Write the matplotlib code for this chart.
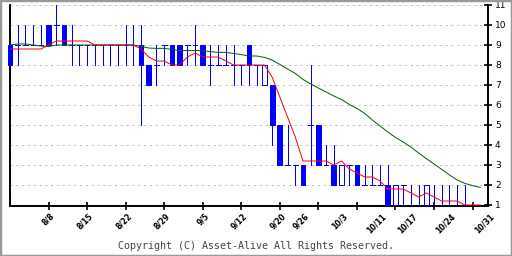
import matplotlib
matplotlib.use("Agg")
import matplotlib.pyplot as plt
from matplotlib.patches import Rectangle

# daily candles, one per trading day (index 0 = 8/1)
opens = [9, 9, 9, 9, 9, 10, 10, 10, 9, 9, 9, 9, 9, 9, 9, 9, 9, 9, 8, 8,
         9, 9, 9, 9, 9, 9, 8, 8, 8, 8, 8, 9, 8, 7, 7, 5, 3, 3, 3, 5,
         5, 3, 3, 2, 3, 3, 2, 2, 2, 2, 1, 2, 1, 1, 1, 1, 1, 1, 1, 1,
         1, 1]
highs = [9, 10, 10, 10, 10, 10, 11, 10, 10, 9, 9, 9, 9, 9, 9, 10, 10, 10, 8, 9,
         9, 9, 9, 9, 10, 9, 9, 9, 9, 9, 8, 9, 8, 8, 7, 5, 5, 3, 3, 8,
         5, 4, 4, 3, 3, 3, 3, 3, 3, 3, 2, 2, 2, 2, 2, 2, 2, 2, 2, 2,
         1, 1]
lows = [8, 8, 9, 9, 9, 9, 9, 9, 8, 8, 8, 8, 8, 8, 8, 8, 8, 5, 7, 7,
        8, 8, 8, 8, 8, 8, 7, 8, 8, 7, 7, 7, 7, 7, 4, 3, 3, 2, 2, 3,
        3, 3, 2, 2, 2, 2, 2, 2, 2, 1, 1, 1, 1, 1, 1, 1, 1, 1, 1, 1,
        1, 1]
closes = [8, 9, 9, 9, 9, 9, 10, 9, 9, 9, 9, 9, 9, 9, 9, 9, 9, 8, 7, 8,
          9, 8, 8, 9, 9, 8, 8, 8, 8, 8, 8, 8, 8, 8, 5, 3, 3, 3, 2, 5,
          3, 3, 2, 3, 3, 2, 2, 2, 2, 1, 2, 2, 1, 1, 2, 1, 1, 1, 1, 1,
          1, 1]

# moving averages
ma_short = [8.8, 8.8, 8.8, 8.8, 8.8, 9.0, 9.2, 9.2, 9.2, 9.2, 9.2, 9.0, 9.0, 9.0, 9.0, 9.0,
            9.0, 8.8, 8.4, 8.2, 8.2, 8.0, 8.0, 8.4, 8.6, 8.4, 8.4, 8.4, 8.2, 8.0, 8.0, 8.0,
            8.0, 8.0, 7.4, 6.4, 5.4, 4.4, 3.2, 3.2, 3.2, 3.2, 3.0, 3.2, 2.8, 2.6, 2.4, 2.4,
            2.2, 1.8, 1.8, 1.8, 1.6, 1.4, 1.6, 1.4, 1.2, 1.2, 1.2, 1.0, 1.0, 1.0]
ma_long = [9.0, 9.05, 9.05, 9.0, 8.95, 8.92, 9.0, 9.0, 9.0, 9.0, 9.0, 9.0, 9.0, 9.0, 9.0, 9.0,
           9.0, 8.93, 8.85, 8.83, 8.83, 8.78, 8.72, 8.72, 8.72, 8.72, 8.67, 8.63, 8.63, 8.58,
           8.52, 8.45, 8.45, 8.38, 8.25, 8.03, 7.8, 7.58, 7.28, 7.05, 6.85, 6.65, 6.45, 6.28,
           6.03, 5.83, 5.58, 5.25, 4.95, 4.65, 4.38, 4.15, 3.9, 3.6, 3.32, 3.05, 2.78, 2.5,
           2.25, 2.08, 1.97, 1.88]

date_pos = [5, 10, 15, 20, 25, 30, 35, 38, 43, 48, 52, 57, 62]
date_labels = ["8/8", "8/15", "8/22", "8/29", "9/5", "9/12", "9/20", "9/26",
               "10/3", "10/11", "10/17", "10/24", "10/31"]
y_ticks = list(range(1, 12))

BLUE = "#0000ff"
PX = 0.72  # one pixel in points at 100 dpi

fig = plt.figure(figsize=(5.12, 2.56), dpi=100)
ax = fig.add_axes([10 / 512, 50 / 256, 478 / 512, 201 / 256])
ax.set_xlim(0, 62)
ax.set_ylim(0.95, 11)

for y in y_ticks:
    ax.axhline(y, color="#c0c0c0", lw=PX, ls=(0, (2.2, 3.6)), zorder=0)

w = 0.62
for i, (o, h, l, c) in enumerate(zip(opens, highs, lows, closes)):
    ax.plot([i, i], [l, h], color=BLUE, lw=PX, zorder=2, clip_on=False)
    if o == c:
        ax.plot([i - w / 2, i + w / 2], [o, o], color=BLUE, lw=PX, zorder=2, clip_on=False)
    else:
        fc = BLUE if c < o else "white"
        ax.add_patch(Rectangle((i - w / 2, min(o, c)), w, abs(o - c), facecolor=fc,
                               edgecolor=BLUE, lw=PX, zorder=3, clip_on=False))

x = list(range(len(ma_short)))
ax.plot(x, ma_long, color="#006400", lw=PX, zorder=4)
ax.plot(x, ma_short, color="#ff0000", lw=PX, zorder=5)

ax.spines["top"].set_visible(False)
for s in ("left", "right", "bottom"):
    ax.spines[s].set_linewidth(1.4)
ax.yaxis.tick_right()
ax.set_yticks(y_ticks)
ax.tick_params(axis="y", direction="inout", length=6, width=1.2, labelsize=6.5, pad=2)

ax.set_xticks(range(5, 61, 5))
ax.set_xticklabels([])
ax.tick_params(axis="x", which="major", direction="inout", length=6, width=1.2)

# date labels sit at their own trading day, not on the 5-day ticks
for pos, lab in zip(date_pos, date_labels):
    ax.annotate(lab, xy=(pos, 0), xycoords=("data", "axes fraction"),
                xytext=(1, -4), textcoords="offset points", rotation=45,
                ha="right", va="top", rotation_mode="anchor",
                fontsize=5.5, fontweight="bold", annotation_clip=False)

fig.text(0.5, 1 - 246 / 256, "Copyright (C) Asset-Alive All Rights Reserved.",
         ha="center", va="center", family="DejaVu Sans Mono", fontsize=7.2, color="#444444")
fig.patches.append(Rectangle((0, 0), 1, 1, transform=fig.transFigure, fill=False,
                             edgecolor="#999999", lw=2.5))

fig.savefig("out.png", dpi=100)
